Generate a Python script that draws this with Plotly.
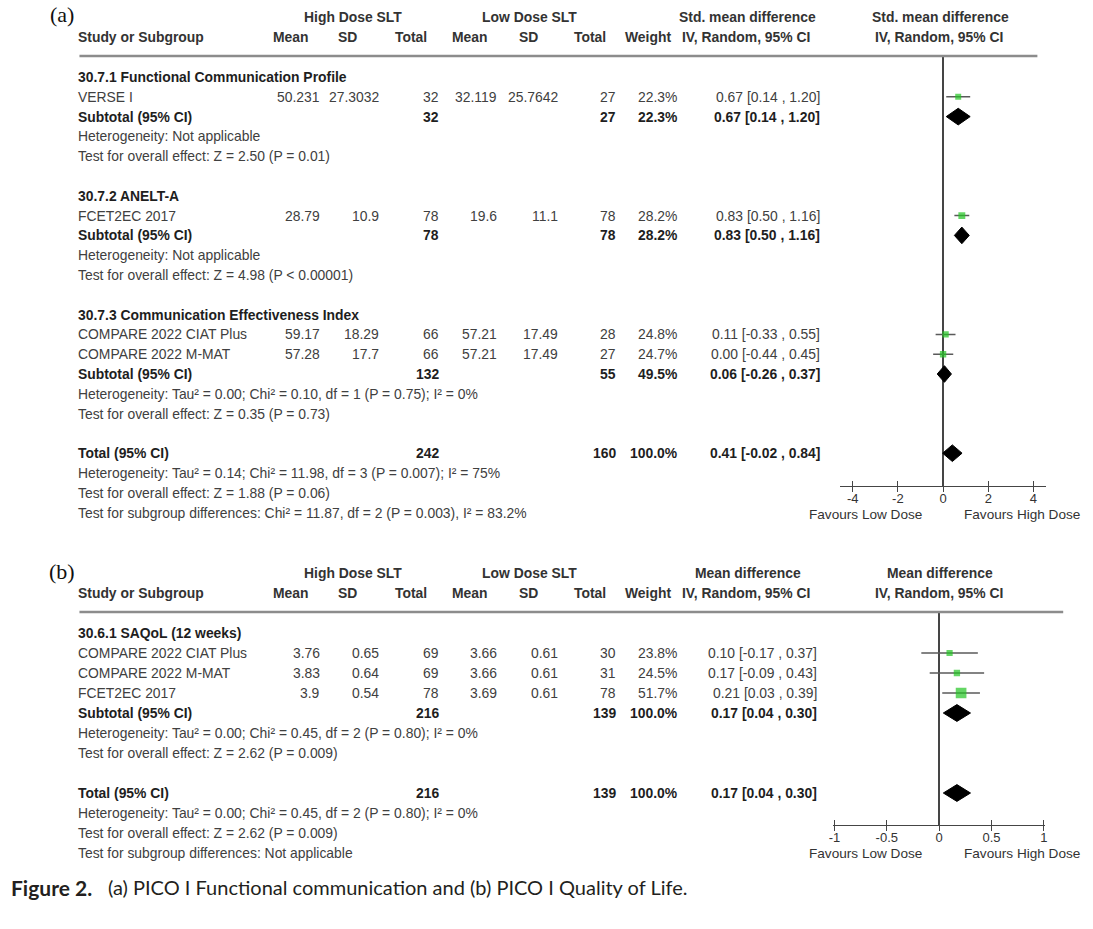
import plotly.graph_objects as go

W, H = 1093, 929

# ---------------- Panel (a) data: Functional communication (SMD) ----------------
subgroups_a = ["30.7.1 Functional Communication Profile", "30.7.2 ANELT-A",
               "30.7.3 Communication Effectiveness Index"]
studies_a = ["VERSE I", "FCET2EC 2017", "COMPARE 2022 CIAT Plus", "COMPARE 2022 M-MAT"]
study_group_a = [0, 1, 2, 2]
hi_mean_a = [50.231, 28.79, 59.17, 57.28]
hi_sd_a = [27.3032, 10.9, 18.29, 17.7]
hi_n_a = [32, 78, 66, 66]
lo_mean_a = [32.119, 19.6, 57.21, 57.21]
lo_sd_a = [25.7642, 11.1, 17.49, 17.49]
lo_n_a = [27, 78, 28, 27]
weight_a = [22.3, 28.2, 24.8, 24.7]
est_a = [0.67, 0.83, 0.11, 0.00]
cil_a = [0.14, 0.50, -0.33, -0.44]
ciu_a = [1.20, 1.16, 0.55, 0.45]

sub_hi_n_a = [32, 78, 132]
sub_lo_n_a = [27, 78, 55]
sub_w_a = [22.3, 28.2, 49.5]
sub_est_a = [0.67, 0.83, 0.06]
sub_cil_a = [0.14, 0.50, -0.26]
sub_ciu_a = [1.20, 1.16, 0.37]
sub_het_a = ["Heterogeneity: Not applicable", "Heterogeneity: Not applicable",
             "Heterogeneity: Tau² = 0.00; Chi² = 0.10, df = 1 (P = 0.75); I² = 0%"]
sub_test_a = ["Test for overall effect: Z = 2.50 (P = 0.01)",
              "Test for overall effect: Z = 4.98 (P < 0.00001)",
              "Test for overall effect: Z = 0.35 (P = 0.73)"]

tot_hi_n_a, tot_lo_n_a, tot_w_a = 242, 160, 100.0
tot_est_a, tot_cil_a, tot_ciu_a = 0.41, -0.02, 0.84
tot_lines_a = ["Heterogeneity: Tau² = 0.14; Chi² = 11.98, df = 3 (P = 0.007); I² = 75%",
               "Test for overall effect: Z = 1.88 (P = 0.06)",
               "Test for subgroup differences: Chi² = 11.87, df = 2 (P = 0.003), I² = 83.2%"]
ticks_a = [-4, -2, 0, 2, 4]
tick_text_a = ["-4", "-2", "0", "2", "4"]

# ---------------- Panel (b) data: Quality of life (MD) ----------------
subgroups_b = ["30.6.1 SAQoL (12 weeks)"]
studies_b = ["COMPARE 2022 CIAT Plus", "COMPARE 2022 M-MAT", "FCET2EC 2017"]
study_group_b = [0, 0, 0]
hi_mean_b = [3.76, 3.83, 3.9]
hi_sd_b = [0.65, 0.64, 0.54]
hi_n_b = [69, 69, 78]
lo_mean_b = [3.66, 3.66, 3.69]
lo_sd_b = [0.61, 0.61, 0.61]
lo_n_b = [30, 31, 78]
weight_b = [23.8, 24.5, 51.7]
est_b = [0.10, 0.17, 0.21]
cil_b = [-0.17, -0.09, 0.03]
ciu_b = [0.37, 0.43, 0.39]

sub_hi_n_b = [216]
sub_lo_n_b = [139]
sub_w_b = [100.0]
sub_est_b = [0.17]
sub_cil_b = [0.04]
sub_ciu_b = [0.30]
sub_het_b = ["Heterogeneity: Tau² = 0.00; Chi² = 0.45, df = 2 (P = 0.80); I² = 0%"]
sub_test_b = ["Test for overall effect: Z = 2.62 (P = 0.009)"]

tot_hi_n_b, tot_lo_n_b, tot_w_b = 216, 139, 100.0
tot_est_b, tot_cil_b, tot_ciu_b = 0.17, 0.04, 0.30
tot_lines_b = ["Heterogeneity: Tau² = 0.00; Chi² = 0.45, df = 2 (P = 0.80); I² = 0%",
               "Test for overall effect: Z = 2.62 (P = 0.009)",
               "Test for subgroup differences: Not applicable"]
ticks_b = [-1, -0.5, 0, 0.5, 1]
tick_text_b = ["-1", "-0.5", "0", "0.5", "1"]

# ---------------- styling ----------------
FONT = "Liberation Sans, Arial, sans-serif"
FS = 13.9
TXT = "#404040"
BOLD = "#1e1e1e"
HEAD = "#333333"
GREEN = "#22c422"
AX = "#454545"

annots = []
shapes = []


def px(x):
    return x / W


def py(y):
    return 1 - y / H


def txt(x, y, s, anchor="left", bold=False, size=FS, color=None, family=FONT):
    annots.append(dict(x=px(x), y=py(y), xref="paper", yref="paper",
                       text=f"<b>{s}</b>" if bold else s, showarrow=False,
                       xanchor=anchor, yanchor="middle", borderpad=0, borderwidth=0,
                       font=dict(family=family, size=size, color=color or (BOLD if bold else TXT))))


def ci_str(e, l, u):
    return f"{e:.2f} [{l:.2f} , {u:.2f}]"


fig = go.Figure()

panels = [
    dict(label="(a)", y0=77, dy=19.8, line_y=56, axis_y=486, line_x1=1040,
         xdom=(841, 1049), xr=(-4.57, 4.57), ci_right=821,
         effect_title="Std. mean difference", ticks=ticks_a, tick_text=tick_text_a,
         subgroups=subgroups_a, studies=studies_a, grp=study_group_a,
         hm=hi_mean_a, hs=hi_sd_a, hn=hi_n_a, lm=lo_mean_a, ls=lo_sd_a, ln=lo_n_a,
         w=weight_a, e=est_a, l=cil_a, u=ciu_a,
         s_hn=sub_hi_n_a, s_ln=sub_lo_n_a, s_w=sub_w_a, s_e=sub_est_a, s_l=sub_cil_a,
         s_u=sub_ciu_a, s_het=sub_het_a, s_test=sub_test_a,
         t_hn=tot_hi_n_a, t_ln=tot_lo_n_a, t_w=tot_w_a, t_e=tot_est_a, t_l=tot_cil_a,
         t_u=tot_ciu_a, t_lines=tot_lines_a, xa="x", ya="y", xo="x3"),
    dict(label="(b)", y0=633, dy=20.0, line_y=612, axis_y=825, line_x1=1066,
         xdom=(834.5, 1047.5), xr=(-1.01, 1.01), ci_right=818,
         effect_title="Mean difference", ticks=ticks_b, tick_text=tick_text_b,
         subgroups=subgroups_b, studies=studies_b, grp=study_group_b,
         hm=hi_mean_b, hs=hi_sd_b, hn=hi_n_b, lm=lo_mean_b, ls=lo_sd_b, ln=lo_n_b,
         w=weight_b, e=est_b, l=cil_b, u=ciu_b,
         s_hn=sub_hi_n_b, s_ln=sub_lo_n_b, s_w=sub_w_b, s_e=sub_est_b, s_l=sub_cil_b,
         s_u=sub_ciu_b, s_het=sub_het_b, s_test=sub_test_b,
         t_hn=tot_hi_n_b, t_ln=tot_lo_n_b, t_w=tot_w_b, t_e=tot_est_b, t_l=tot_cil_b,
         t_u=tot_ciu_b, t_lines=tot_lines_b, xa="x2", ya="y2", xo="x4"),
]

# column anchors (px)
C_STUDY = 74
C_HM, C_HS, C_HN = 317, 377, 437
C_LM, C_LS, C_LN = 496, 557, 616
C_W = 677
DIAMOND_HALF = 0.42  # rows

layout_axes = {}

for k, P in enumerate(panels):
    y0, dy = P["y0"], P["dy"]

    def ry(r, y0=y0, dy=dy):
        return y0 + dy * r

    # headers
    hy1, hy2 = y0 - 60, y0 - 40
    txt(57, hy1 - 2, P["label"], anchor="center", size=22, color="#111111",
        family="Liberation Serif, DejaVu Serif, serif")
    txt(351, hy1, "High Dose SLT", "center", True, color=HEAD)
    txt(528, hy1, "Low Dose SLT", "center", True, color=HEAD)
    txt(748, hy1, P["effect_title"], "center", True, color=HEAD)
    txt(942, hy1, P["effect_title"], "center", True, color=HEAD)
    txt(C_STUDY, hy2, "Study or Subgroup", "left", True, color=HEAD)
    for cx, s in [(288, "Mean"), (345, "SD"), (409, "Total"), (468, "Mean"), (527, "SD"),
                  (589, "Total"), (648, "Weight"), (746, "IV, Random, 95% CI"),
                  (941, "IV, Random, 95% CI")]:
        txt(cx, hy2, s, "center", True, color=HEAD)
    shapes.append(dict(type="line", xref="paper", yref="paper", x0=px(75), x1=px(P["line_x1"]),
                       y0=py(P["line_y"]), y1=py(P["line_y"]),
                       line=dict(color="#8c8c8c", width=2.5)))

    # row assignment
    r = 0
    study_rows, sub_rows = [None] * len(P["studies"]), []
    for g, gname in enumerate(P["subgroups"]):
        txt(C_STUDY, ry(r), gname, "left", True)
        r += 1
        for i, sg in enumerate(P["grp"]):
            if sg == g:
                study_rows[i] = r
                r += 1
        sub_rows.append(r)
        r += 4
    total_row = r

    # study rows text
    for i, s in enumerate(P["studies"]):
        y = ry(study_rows[i])
        txt(C_STUDY, y, s)
        txt(C_HM, y, f"{P['hm'][i]}", "right")
        txt(C_HS, y, f"{P['hs'][i]}", "right")
        txt(C_HN, y, f"{P['hn'][i]}", "right")
        txt(C_LM, y, f"{P['lm'][i]}", "right")
        txt(C_LS, y, f"{P['ls'][i]}", "right")
        txt(C_LN, y, f"{P['ln'][i]}", "right")
        txt(C_W, y, f"{P['w'][i]:.1f}%", "right")
        txt(P["ci_right"], y, ci_str(P["e"][i], P["l"][i], P["u"][i]), "right")

    # subtotal rows
    for g, rr in enumerate(sub_rows):
        y = ry(rr)
        txt(C_STUDY, y, "Subtotal (95% CI)", "left", True)
        txt(C_HN, y, f"{P['s_hn'][g]}", "right", True)
        txt(C_LN, y, f"{P['s_ln'][g]}", "right", True)
        txt(C_W, y, f"{P['s_w'][g]:.1f}%", "right", True)
        txt(P["ci_right"], y, ci_str(P["s_e"][g], P["s_l"][g], P["s_u"][g]), "right", True)
        txt(C_STUDY, ry(rr + 1), P["s_het"][g])
        txt(C_STUDY, ry(rr + 2), P["s_test"][g])

    # total rows
    y = ry(total_row)
    txt(C_STUDY, y, "Total (95% CI)", "left", True)
    txt(C_HN, y, f"{P['t_hn']}", "right", True)
    txt(C_LN, y, f"{P['t_ln']}", "right", True)
    txt(C_W, y, f"{P['t_w']:.1f}%", "right", True)
    txt(P["ci_right"], y, ci_str(P["t_e"], P["t_l"], P["t_u"]), "right", True)
    for j, line in enumerate(P["t_lines"]):
        txt(C_STUDY, ry(total_row + 1 + j), line)

    # Favours labels
    fy = P["axis_y"] + 28.5
    txt(924, fy, "Favours Low Dose", "right", color=HEAD, size=13.6)
    txt(1025, fy, "Favours High Dose", "center", color=HEAD, size=13.6)

    # ---------- forest marks ----------
    xa, ya = P["xa"], P["ya"]
    wx, wy = [], []
    for i in range(len(P["studies"])):
        wx += [P["l"][i], P["u"][i], None]
        wy += [study_rows[i], study_rows[i], None]
    fig.add_trace(go.Scatter(x=wx, y=wy, mode="lines", xaxis=xa, yaxis=ya,
                             line=dict(color="#5a5a5a", width=1.5), hoverinfo="skip",
                             showlegend=False))
    fig.add_trace(go.Scatter(x=P["e"], y=study_rows, mode="markers", xaxis=xa, yaxis=ya,
                             marker=dict(symbol="square", color=GREEN,
                                         size=[2.4 + 0.16 * w for w in P["w"]],
                                         line=dict(width=0)),
                             showlegend=False, hoverinfo="skip"))
    dia = [(P["s_e"][g], P["s_l"][g], P["s_u"][g], sub_rows[g]) for g in range(len(sub_rows))]
    dia.append((P["t_e"], P["t_l"], P["t_u"], total_row))
    for e, l, u, rr in dia:
        fig.add_trace(go.Scatter(x=[l, e, u, e, l], y=[rr, rr - DIAMOND_HALF, rr, rr + DIAMOND_HALF, rr],
                                 mode="lines", fill="toself", fillcolor="#000000",
                                 line=dict(color="#000000", width=1), xaxis=xa, yaxis=ya,
                                 showlegend=False, hoverinfo="skip"))

    # axes
    top_px, bot_px = P["line_y"], P["axis_y"]
    r_top = (top_px - y0) / dy
    r_bot = (bot_px - y0) / dy
    xdom = [P["xdom"][0] / W, P["xdom"][1] / W]
    ydom = [1 - bot_px / H, 1 - top_px / H]
    xname = "xaxis" if xa == "x" else "xaxis" + xa[1:]
    yname = "yaxis" if ya == "y" else "yaxis" + ya[1:]
    oname = "xaxis" + P["xo"][1:]
    layout_axes[xname] = dict(domain=xdom, range=list(P["xr"]), anchor=ya,
                              tickvals=P["ticks"], ticktext=P["tick_text"],
                              ticks="outside", ticklen=5, tickwidth=1.3, tickcolor=AX,
                              ticklabelstandoff=-5,
                              showline=True, linecolor=AX, linewidth=1.4,
                              zeroline=True, zerolinecolor=AX, zerolinewidth=1.6,
                              showgrid=False, fixedrange=True,
                              tickfont=dict(family=FONT, size=13, color=HEAD))
    layout_axes[oname] = dict(domain=xdom, range=list(P["xr"]), anchor=ya, overlaying=xa,
                              tickvals=P["ticks"], ticks="inside", ticklen=5, tickwidth=1.3,
                              tickcolor=AX, showticklabels=False, showline=False,
                              zeroline=False, showgrid=False, fixedrange=True)
    layout_axes[yname] = dict(domain=ydom, range=[r_bot, r_top], visible=False,
                              showgrid=False, zeroline=False, fixedrange=True)
    fig.add_trace(go.Scatter(x=[0], y=[0], xaxis=P["xo"], yaxis=ya, mode="markers",
                             marker=dict(opacity=0), showlegend=False, hoverinfo="skip"))

# caption
annots.append(dict(x=px(6), y=py(887), xref="paper", yref="paper", showarrow=False,
                   xanchor="left", yanchor="middle", borderpad=0, borderwidth=0,
                   text="<b>Figure 2.</b>",
                   font=dict(family="Lato, Open Sans, sans-serif", size=21, color="#231f20")))
annots.append(dict(x=px(104), y=py(887), xref="paper", yref="paper", showarrow=False,
                   xanchor="left", yanchor="middle", borderpad=0, borderwidth=0,
                   text="(a) PICO I Functional communication and (b) PICO I Quality of Life.",
                   font=dict(family="Lato, Open Sans, sans-serif", size=20, color="#231f20")))

fig.update_layout(width=W, height=H, autosize=False,
                  margin=dict(l=0, r=0, t=0, b=0, pad=0),
                  paper_bgcolor="white", plot_bgcolor="white",
                  annotations=annots, shapes=shapes, showlegend=False,
                  **layout_axes)

fig.write_html("out.html", config={"displayModeBar": False},
               post_script="document.body.style.margin='0px';document.body.style.padding='0px';")
